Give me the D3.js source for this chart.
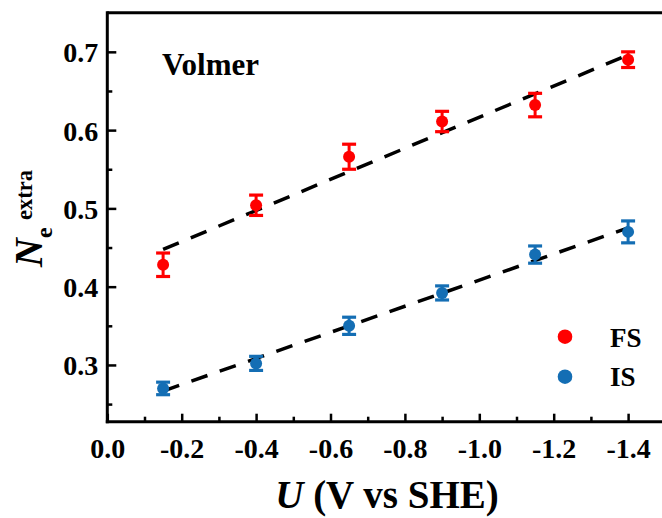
<!DOCTYPE html>
<html>
<head>
<meta charset="utf-8">
<script src="https://cdn.jsdelivr.net/npm/d3@7"></script>
<style>
  html, body { margin: 0; padding: 0; background: #fff; }
  svg { display: block; }
  text { font-family: "Liberation Serif", "Times New Roman", serif; font-weight: bold; fill: #000; }
</style>
</head>
<body>
<svg id="chart" width="662" height="518"></svg>
<script>
// ---- data ----
const potentials = [-0.15, -0.4, -0.65, -0.9, -1.15, -1.4];
const fsValues = [0.428, 0.504, 0.566, 0.611, 0.632, 0.690];
const fsErrors = [0.015, 0.013, 0.016, 0.013, 0.015, 0.010];
const isValues = [0.270, 0.302, 0.350, 0.392, 0.441, 0.470];
const isErrors = [0.008, 0.009, 0.011, 0.009, 0.011, 0.014];
const xTickValues = [0, -0.2, -0.4, -0.6, -0.8, -1.0, -1.2, -1.4];
const xMinorValues = [-0.1, -0.3, -0.5, -0.7, -0.9, -1.1, -1.3, -1.5];
const yTickValues = [0.3, 0.4, 0.5, 0.6, 0.7];
const yMinorValues = [0.25, 0.35, 0.45, 0.55, 0.65];
const seriesNames = ["FS", "IS"];
const seriesColors = ["#ff0000", "#146eb4"];

(function () {
const svg = d3.select("#chart");
const pLeft = 107.3, pRight = 665.3, pTop = 12.7, pBottom = 421.7;

const x = d3.scaleLinear().domain([0, -1.5]).range([pLeft, pRight]);
const y = d3.scaleLinear().domain([0.2275, 0.75]).range([pBottom, pTop]);

// ---- frame ----
svg.append("line").attr("x1", pLeft).attr("x2", pRight).attr("y1", pTop).attr("y2", pTop)
  .attr("stroke", "#000").attr("stroke-width", 3);
svg.append("line").attr("x1", pRight).attr("x2", pRight).attr("y1", pTop).attr("y2", pBottom)
  .attr("stroke", "#000").attr("stroke-width", 3);

// ---- axes ----
const fmtX = d => d === 0 ? "0.0" : "-" + Math.abs(d).toFixed(1);
const xAxis = svg.append("g").attr("transform", `translate(0,${pBottom})`)
  .call(d3.axisBottom(x).tickValues(xTickValues).tickFormat(fmtX).tickSizeInner(-8).tickSizeOuter(0));
xAxis.select(".domain").attr("stroke-width", 3).attr("d", `M${pLeft - 1.5},0H${pRight}`);
xAxis.selectAll(".tick line").attr("stroke-width", 2.5);
xAxis.selectAll(".tick text").attr("y", 36).attr("dy", 0)
  .attr("font-size", 28).attr("font-family", "Liberation Serif").attr("font-weight", "bold").attr("fill", "#000");
svg.append("g").attr("transform", `translate(0,${pBottom})`)
  .call(d3.axisBottom(x).tickValues(xMinorValues).tickFormat("").tickSizeInner(-5).tickSizeOuter(0))
  .call(g => g.select(".domain").remove())
  .selectAll(".tick line").attr("stroke-width", 2.5);

const yAxis = svg.append("g").attr("transform", `translate(${pLeft},0)`)
  .call(d3.axisLeft(y).tickValues(yTickValues).tickFormat(d3.format(".1f")).tickSizeInner(-9).tickSizeOuter(0));
yAxis.select(".domain").attr("stroke-width", 3).attr("d", `M0,${pBottom + 1.5}V${pTop - 1.5}`);
yAxis.selectAll(".tick line").attr("stroke-width", 2.5);
yAxis.selectAll(".tick text").attr("x", -9).attr("dy", 10)
  .attr("font-size", 28).attr("font-family", "Liberation Serif").attr("font-weight", "bold").attr("fill", "#000");
svg.append("g").attr("transform", `translate(${pLeft},0)`)
  .call(d3.axisLeft(y).tickValues(yMinorValues).tickFormat("").tickSizeInner(-5).tickSizeOuter(0))
  .call(g => g.select(".domain").remove())
  .selectAll(".tick line").attr("stroke-width", 2.5);

// ---- linear fits (least squares from the data) ----
function fit(xs, ys) {
  const n = xs.length, mx = d3.mean(xs), my = d3.mean(ys);
  let sxy = 0, sxx = 0;
  for (let i = 0; i < n; i++) { sxy += (xs[i] - mx) * (ys[i] - my); sxx += (xs[i] - mx) ** 2; }
  const b = sxy / sxx, a = my - b * mx;
  const x0 = d3.max(xs), x1 = d3.min(xs);
  return [[x0, a + b * x0], [x1, a + b * x1]];
}
const line = d3.line().x(d => x(d[0])).y(d => y(d[1]));
[fsValues, isValues].forEach(vals => {
  svg.append("path").attr("d", line(fit(potentials, vals)))
    .attr("fill", "none").attr("stroke", "#000").attr("stroke-width", 3.5)
    .attr("stroke-dasharray", "17,13");
});

// ---- points with error bars ----
const series = [
  { vals: fsValues, errs: fsErrors, color: seriesColors[0] },
  { vals: isValues, errs: isErrors, color: seriesColors[1] }
];
series.forEach(s => {
  const g = svg.append("g");
  const pts = potentials.map((p, i) => ({ p, v: s.vals[i], e: s.errs[i] }));
  g.selectAll(".stem").data(pts).join("line")
    .attr("x1", d => x(d.p)).attr("x2", d => x(d.p))
    .attr("y1", d => y(d.v - d.e)).attr("y2", d => y(d.v + d.e))
    .attr("stroke", s.color).attr("stroke-width", 3);
  ["lo", "hi"].forEach(k => {
    g.selectAll(".cap" + k).data(pts).join("line")
      .attr("x1", d => x(d.p) - 7).attr("x2", d => x(d.p) + 7)
      .attr("y1", d => y(k === "lo" ? d.v - d.e : d.v + d.e))
      .attr("y2", d => y(k === "lo" ? d.v - d.e : d.v + d.e))
      .attr("stroke", s.color).attr("stroke-width", 3.2);
  });
  g.selectAll("circle").data(pts).join("circle")
    .attr("cx", d => x(d.p)).attr("cy", d => y(d.v)).attr("r", 6)
    .attr("fill", s.color);
});

// ---- legend ----
const legend = svg.append("g");
seriesNames.forEach((name, i) => {
  legend.append("circle").attr("cx", 565).attr("cy", 336.7 + i * 40).attr("r", 7.3).attr("fill", seriesColors[i]);
  legend.append("text").attr("x", 610).attr("y", 347 + i * 38.5).attr("font-size", 27).text(name);
});

// ---- annotations ----
svg.append("text").attr("x", 162).attr("y", 75).attr("font-size", 31).text("Volmer");

svg.append("text").attr("x", 387).attr("y", 508).attr("text-anchor", "middle").attr("font-size", 39)
  .call(t => {
    t.append("tspan").attr("font-style", "italic").text("U");
    t.append("tspan").text(" (V vs SHE)");
  });

const yl = svg.append("text").attr("transform", "rotate(-90)");
yl.append("tspan").attr("x", -267).attr("y", 42).attr("font-size", 40).attr("font-style", "italic").text("N");
yl.append("tspan").attr("x", -238).attr("y", 52).attr("font-size", 24).text("e");
yl.append("tspan").attr("x", -220).attr("y", 32).attr("font-size", 22.5).text("extra");
})();
</script>
</body>
</html>
